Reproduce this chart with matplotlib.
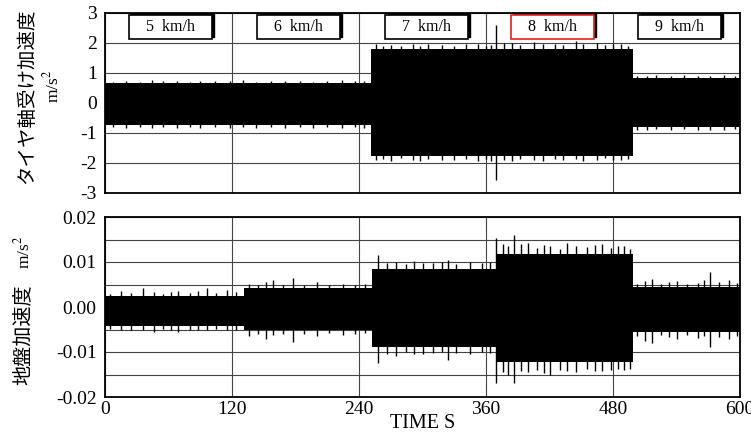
import matplotlib
matplotlib.use("Agg")
import matplotlib.pyplot as plt
from matplotlib.patches import Rectangle
from matplotlib.ticker import MultipleLocator

# --- Daten ---
# Geschwindigkeitsstufen und Lage der Beschriftungskaesten (Zeit, s)
speeds = ["5 km/h", "6 km/h", "7 km/h", "8 km/h", "9 km/h"]
speed_centers = [62, 183, 304, 423, 543]

# Achslager-Beschleunigung: Huellkurve je Abschnitt
top_edges = [0, 251, 498.5, 600]
top_upper = [0.64, 1.80, 0.82]
top_lower = [-0.74, -1.78, -0.82]
# einzelne Spitzen: Zeit, oben, unten
top_spk_t = [8, 20, 33, 44, 55, 68, 80, 90, 104, 118, 130, 143, 157, 170, 184, 197, 210, 224, 236, 245,
             256, 263, 270, 280, 291, 298, 305, 318, 330, 341, 352, 360, 365, 369.5, 377, 385, 392, 405, 414,
             425, 433, 445, 452, 465, 472, 480, 488, 494,
             503, 512, 521, 535, 547, 560, 572, 585, 595]
top_spk_hi = [0.70, 0.72, 0.69, 0.74, 0.71, 0.72, 0.70, 0.73, 0.71, 0.72, 0.74, 0.70, 0.72, 0.71, 0.73, 0.70, 0.72, 0.74, 0.71, 0.72,
              1.95, 1.90, 1.93, 1.88, 1.94, 1.90, 1.95, 1.92, 1.90, 1.94, 1.96, 1.90, 1.93, 2.58, 1.98, 2.0, 1.92, 2.02, 1.95,
              1.97, 1.93, 2.05, 1.96, 1.98, 1.92, 1.95, 1.96, 1.90,
              0.90, 0.88, 0.91, 0.89, 0.92, 0.90, 0.88, 0.91, 0.89]
top_spk_lo = [-0.82, -0.84, -0.80, -0.83, -0.82, -0.85, -0.81, -0.84, -0.82, -0.83, -0.80, -0.84, -0.82, -0.85, -0.81, -0.83, -0.82, -0.84, -0.80, -0.85,
              -1.92, -1.88, -1.94, -1.86, -1.90, -1.93, -1.88, -1.92, -1.90, -1.87, -1.93, -1.88, -1.95, -2.58, -1.90, -1.93, -1.88, -1.90, -1.94,
              -1.89, -1.92, -1.88, -1.95, -1.90, -1.86, -1.92, -1.90, -1.88,
              -0.90, -0.92, -0.89, -0.91, -0.88, -0.92, -0.90, -0.91, -0.89]

# Bodenbeschleunigung: Huellkurve je Abschnitt
bot_edges = [0, 131, 252, 370, 498.5, 600]
bot_upper = [0.0025, 0.0042, 0.0085, 0.0118, 0.0045]
bot_lower = [-0.0042, -0.0052, -0.0090, -0.0122, -0.0055]
bot_spk_t = [5, 15, 25, 36, 46, 55, 62, 69, 80, 88, 96, 105, 115, 124,
             136, 145, 152, 159, 168, 178, 188, 200, 212, 225, 236, 246,
             258, 266, 275, 284, 292, 300, 310, 318, 324, 332, 345, 356, 364,
             369.5, 376, 381, 386.7, 393, 400, 408, 415, 420, 430, 437, 445, 455, 463, 470, 478, 485, 490, 496,
             503, 510, 516.5, 525, 533, 540, 550, 560, 566, 571.7, 580, 590, 597]
bot_spk_hi = [0.0030, 0.0035, 0.0031, 0.0042, 0.0033, 0.0030, 0.0034, 0.0036, 0.0032, 0.0035, 0.0042, 0.0031, 0.0038, 0.0033,
              0.0052, 0.0048, 0.0055, 0.0060, 0.0050, 0.0064, 0.0049, 0.0055, 0.0050, 0.0052, 0.0048, 0.0051,
              0.0116, 0.0098, 0.0100, 0.0095, 0.0102, 0.0098, 0.0097, 0.0100, 0.0104, 0.0096, 0.0100, 0.0097, 0.0099,
              0.0153, 0.0140, 0.0135, 0.0160, 0.0140, 0.0142, 0.0132, 0.0138, 0.0136, 0.0130, 0.0142, 0.0135, 0.0133, 0.0138, 0.0140, 0.0132, 0.0136, 0.0135, 0.0130,
              0.0052, 0.0058, 0.0062, 0.0051, 0.0055, 0.0058, 0.0052, 0.0054, 0.0060, 0.0078, 0.0056, 0.0060, 0.0053]
bot_spk_lo = [-0.0048, -0.0052, -0.0050, -0.0050, -0.0055, -0.0049, -0.0052, -0.0055, -0.0050, -0.0052, -0.0052, -0.0048, -0.0050, -0.0051,
              -0.0065, -0.0060, -0.0070, -0.0062, -0.0060, -0.0077, -0.0060, -0.0065, -0.0058, -0.0062, -0.0060, -0.0058,
              -0.0125, -0.0105, -0.0108, -0.0100, -0.0104, -0.0105, -0.0102, -0.0100, -0.0118, -0.0102, -0.0105, -0.0100, -0.0103,
              -0.0168, -0.0145, -0.0150, -0.0168, -0.0142, -0.0145, -0.0140, -0.0146, -0.0150, -0.0140, -0.0143, -0.0145, -0.0138, -0.0142, -0.0142, -0.0140, -0.0138, -0.0140, -0.0138,
              -0.0065, -0.0075, -0.0080, -0.0063, -0.0066, -0.0072, -0.0062, -0.0068, -0.0064, -0.0088, -0.0066, -0.0070, -0.0064]

xticks = [0, 120, 240, 360, 480, 600]

serif = "Liberation Serif"
jp = "Noto Sans CJK JP"
plt.rcParams["font.family"] = [serif, jp, "DejaVu Sans"]
plt.rcParams["mathtext.fontset"] = "stix"
plt.rcParams["axes.unicode_minus"] = False

fig = plt.figure(figsize=(7.51, 4.40), dpi=100)
W, H = 751, 440
ax1 = fig.add_axes([105 / W, 1 - 192.7 / H, 635 / W, 180 / H])
ax2 = fig.add_axes([105 / W, 1 - 397 / H, 635 / W, 180 / H])


def envelope(ax, edges, up, lo, st, sh, sl):
    xs = list(edges)
    ax.fill_between(xs, list(up) + [up[-1]], list(lo) + [lo[-1]], step="post",
                    color="black", lw=0, zorder=2)
    ax.vlines(st, sl, sh, color="black", lw=1.0, zorder=2)


envelope(ax1, top_edges, top_upper, top_lower, top_spk_t, top_spk_hi, top_spk_lo)
envelope(ax2, bot_edges, bot_upper, bot_lower, bot_spk_t, bot_spk_hi, bot_spk_lo)

for ax in (ax1, ax2):
    ax.set_xlim(0, 600)
    ax.set_xticks(xticks)
    ax.set_axisbelow(True)
    ax.grid(True, which="both", color="#444444", lw=0.8)
    ax.tick_params(which="both", length=0, labelsize=14, pad=6)
    for s in ax.spines.values():
        s.set_linewidth(1.3)

ax1.set_ylim(-3, 3)
ax1.set_yticks(range(-3, 4))
ax1.set_xticklabels([])

ax2.set_ylim(-0.02, 0.02)
ax2.set_yticks([-0.02, -0.01, 0.0, 0.01, 0.02])
ax2.set_yticklabels(["-0.02", "-0.01", "0.00", "0.01", "0.02"])
ax2.yaxis.set_minor_locator(MultipleLocator(0.005))
ax2.tick_params(axis="x", pad=3)
ax2.set_xlabel("TIME S", fontsize=14.5, labelpad=-3)

# Geschwindigkeitskaesten mit Schatten
bw, bh = 78, 0.8
for name, c in zip(speeds, speed_centers):
    ec = "#e02020" if name.startswith("8") else "black"
    ax1.add_patch(Rectangle((c - bw / 2 + 2, 2.12 + 0.07), bw, bh,
                            facecolor="black", edgecolor="black", zorder=4))
    ax1.add_patch(Rectangle((c - bw / 2, 2.12), bw, bh, facecolor="white",
                            edgecolor=ec, lw=1.2, zorder=5))
    ax1.text(c, 2.52, name.replace(" ", "  "), ha="center", va="center",
             fontsize=11.5, zorder=6)

# Achsenbeschriftungen
fig.text(27 / W, 1 - 96 / H, "タイヤ軸受け加速度", rotation=90, ha="center",
         va="center", family=jp, fontsize=14)
fig.text(52 / W, 1 - 86 / H, "m/s$^2$", rotation=90, ha="center", va="center",
         fontsize=12.5)
fig.text(23 / W, 1 - 335 / H, "地盤加速度", rotation=90, ha="center",
         va="center", family=jp, fontsize=14.5)
fig.text(23 / W, 1 - 252 / H, "m/s$^2$", rotation=90, ha="center", va="center",
         fontsize=12.5)

fig.savefig("out.png", dpi=100)
